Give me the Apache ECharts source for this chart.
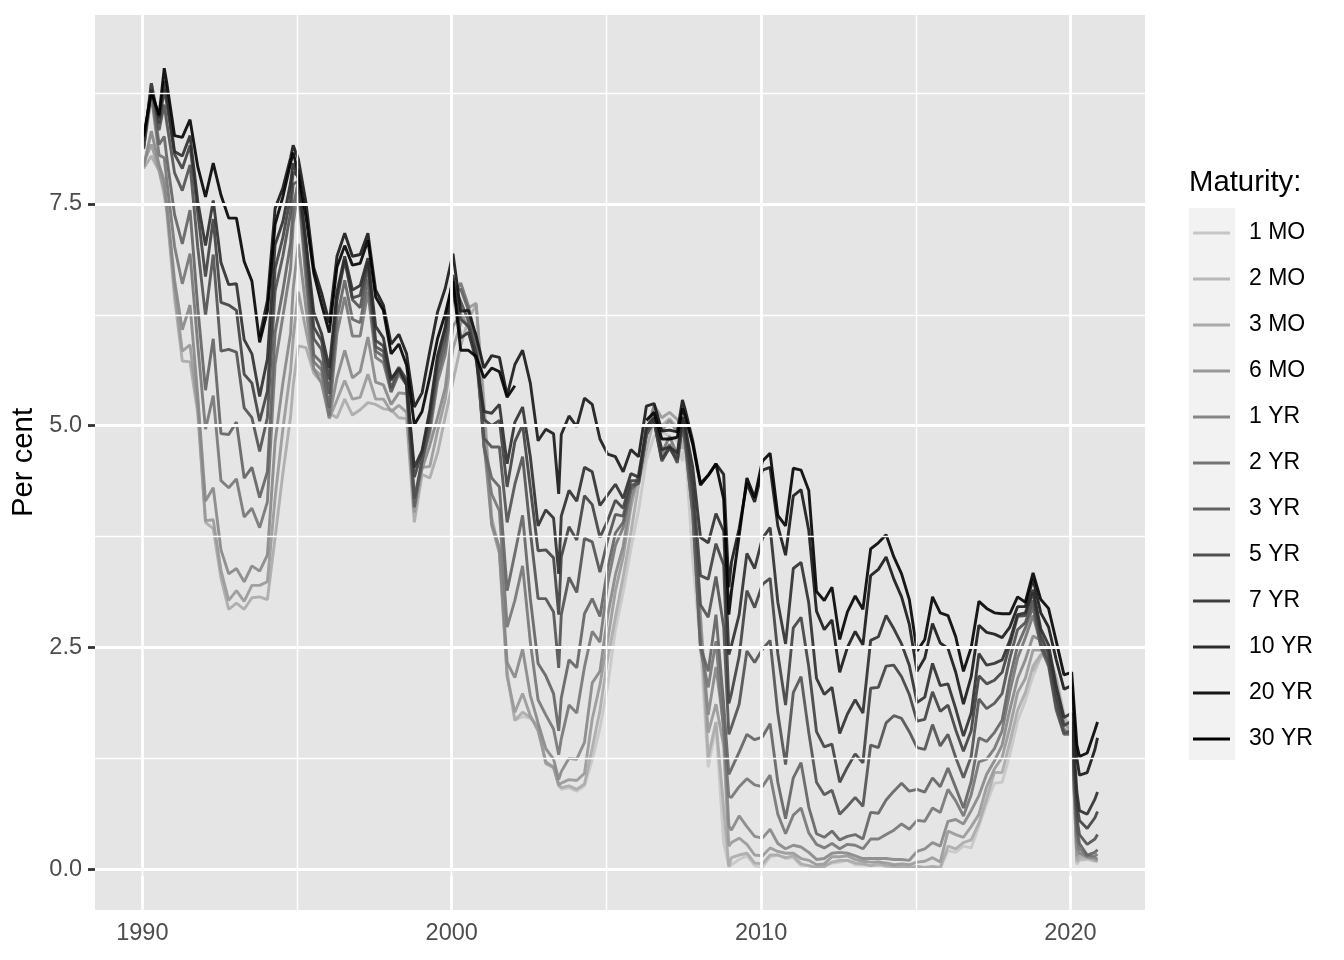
<!DOCTYPE html>
<html>
<head>
<meta charset="utf-8">
<script src="https://cdn.jsdelivr.net/npm/echarts@6/dist/echarts.min.js"></script>
<style>html,body{margin:0;padding:0;background:#fff}#c{width:1344px;height:960px}</style>
</head>
<body>
<div id="c"></div>
<script>
const dates = [
"1990-01","1990-04","1990-07","1990-09","1990-10",
"1991-01","1991-04","1991-07","1991-10",
"1992-01","1992-04","1992-07","1992-10",
"1993-01","1993-04","1993-07","1993-10",
"1994-01","1994-04","1994-07","1994-10","1994-11",
"1995-01","1995-04","1995-07","1995-10",
"1996-01","1996-04","1996-07","1996-10",
"1997-01","1997-04","1997-07","1997-10",
"1998-01","1998-04","1998-07","1998-10",
"1999-01","1999-04","1999-07","1999-10",
"2000-01","2000-04","2000-07","2000-10",
"2001-01","2001-04","2001-07","2001-10",
"2002-01","2002-04","2002-07","2002-10",
"2003-01","2003-04","2003-06","2003-07","2003-10",
"2004-01","2004-04","2004-07","2004-10",
"2005-01","2005-04","2005-07","2005-10",
"2006-01","2006-04","2006-07","2006-10",
"2007-01","2007-04","2007-06","2007-07","2007-10",
"2008-01","2008-04","2008-07","2008-10","2008-12",
"2009-01","2009-04","2009-07","2009-10",
"2010-01","2010-04","2010-07","2010-10",
"2011-01","2011-04","2011-07","2011-10",
"2012-01","2012-04","2012-07","2012-10",
"2013-01","2013-04","2013-07","2013-10",
"2014-01","2014-04","2014-07","2014-10",
"2015-01","2015-04","2015-07","2015-10",
"2016-01","2016-04","2016-07","2016-10",
"2017-01","2017-04","2017-07","2017-10",
"2018-01","2018-04","2018-07","2018-10",
"2019-01","2019-04","2019-07","2019-10",
"2020-01","2020-03","2020-04","2020-07","2020-10","2020-11"
];

const maturities = ["1 MO","2 MO","3 MO","6 MO","1 YR","2 YR","3 YR","5 YR","7 YR","10 YR","20 YR","30 YR"];
const colors = ["#c6c6c6","#b8b8b8","#aaaaaa","#989898","#868686","#747474","#626262","#505050","#3f3f3f","#2c2c2c","#161616","#000000"];

// first observation of series that start later than 1990
const firstDate = {"1 MO":"2001-10","2 MO":"2018-10","20 YR":"1993-10"};

const mo1 = [2.23,
 1.68,1.72,1.70,1.62, 1.19,1.14,0.97,0.90,0.92, 0.88,0.94,1.23,1.59, 2.07,2.70,3.12,3.61,
 4.05,4.61,4.88,4.93, 4.88,4.83,4.60,4.82,3.48, 2.52,1.15,1.61,0.29,0.03, 0.05,0.11,0.15,0.04,
 0.02,0.14,0.16,0.12, 0.13,0.04,0.04,0.01, 0.03,0.07,0.08,0.10, 0.05,0.05,0.04,0.10,
 0.02,0.03,0.02,0.02, 0.03,0.01,0.03,0.01, 0.21,0.19,0.26,0.24, 0.49,0.74,0.97,0.98,
 1.29,1.67,1.90,2.18, 2.39,2.43,2.16,1.76, 1.53,0.05,0.10,0.11,0.09,0.08];

const mo2 = [2.23, 2.40,2.43,2.14,1.72, 1.55,0.08,0.11,0.12,0.10,0.09];

const mo3 = [7.90,8.04,7.87,7.60,7.40, 6.44,5.73,5.72,5.14, 3.91,3.84,3.28,2.93, 3.00,2.93,3.06,3.07,
 3.04,3.74,4.46,5.10,5.45, 5.90,5.88,5.59,5.49, 5.14,5.09,5.30,5.12, 5.18,5.26,5.24,5.19,
 5.18,5.09,5.08,3.91, 4.45,4.41,4.69,5.10, 5.50,5.90,6.20,6.36, 5.29,3.97,3.59,2.20,
 1.68,1.77,1.71,1.61, 1.19,1.15,0.94,0.92,0.94, 0.90,0.96,1.36,1.79, 2.37,2.84,3.29,3.79,
 4.34,4.72,5.08,5.00, 5.08,4.98,4.74,4.96,3.98, 2.82,1.26,1.66,0.69,0.03, 0.13,0.16,0.18,0.07,
 0.06,0.16,0.16,0.13, 0.15,0.06,0.04,0.02, 0.03,0.08,0.10,0.10, 0.07,0.06,0.04,0.05,
 0.04,0.03,0.03,0.02, 0.03,0.02,0.03,0.02, 0.26,0.23,0.30,0.33, 0.52,0.80,1.09,1.09,
 1.43,1.79,1.99,2.29, 2.42,2.43,2.15,1.68, 1.55,0.10,0.14,0.13,0.10,0.09];

const mo6 = [7.96,8.17,7.88,7.66,7.46, 6.54,5.84,5.91,5.20, 3.93,3.94,3.37,3.03, 3.14,3.02,3.20,3.20,
 3.24,4.19,4.96,5.62,5.98, 6.51,6.07,5.64,5.56, 5.08,5.29,5.51,5.30, 5.32,5.58,5.30,5.30,
 5.16,5.23,5.15,4.02, 4.53,4.54,4.94,5.30, 5.87,6.15,6.33,6.38, 5.15,3.88,3.56,2.17,
 1.77,1.98,1.73,1.56, 1.21,1.15,0.95,0.97,1.01, 1.00,1.08,1.69,2.08, 2.58,3.14,3.52,4.08,
 4.47,4.90,5.23,5.09, 5.15,5.07,4.96,5.04,4.20, 2.87,1.54,1.86,1.39,0.26, 0.30,0.35,0.28,0.16,
 0.15,0.24,0.20,0.18, 0.18,0.12,0.10,0.05, 0.06,0.14,0.14,0.15, 0.11,0.09,0.08,0.08,
 0.07,0.05,0.06,0.05, 0.08,0.09,0.13,0.08, 0.43,0.39,0.36,0.48, 0.62,0.93,1.13,1.26,
 1.60,1.99,2.15,2.47, 2.47,2.44,2.07,1.64, 1.56,0.15,0.18,0.14,0.12,0.10];

const yr1 = [7.92,8.32,7.94,7.76,7.49, 6.64,6.08,6.36,5.34, 4.15,4.30,3.60,3.33, 3.39,3.24,3.42,3.36,
 3.54,4.82,5.48,6.04,6.54, 7.05,6.32,5.64,5.48, 5.09,5.54,5.85,5.54, 5.61,6.00,5.49,5.46,
 5.24,5.37,5.36,4.18, 4.51,4.78,5.09,5.43, 6.12,6.26,6.11,6.04, 4.81,3.90,3.62,2.33,
 2.16,2.48,1.96,1.65, 1.36,1.24,1.01,1.10,1.25, 1.24,1.43,2.10,2.23, 2.86,3.32,3.64,4.18,
 4.45,4.90,5.22,4.94, 5.06,4.93,4.96,4.96,4.20, 2.71,1.74,2.28,1.61,0.49, 0.44,0.60,0.48,0.37,
 0.35,0.45,0.29,0.23, 0.27,0.25,0.19,0.11, 0.12,0.18,0.19,0.18, 0.15,0.12,0.12,0.12,
 0.12,0.11,0.11,0.10, 0.20,0.23,0.30,0.26, 0.54,0.56,0.51,0.66, 0.83,1.07,1.22,1.40,
 1.80,2.15,2.36,2.63, 2.58,2.42,1.96,1.58, 1.53,0.24,0.18,0.14,0.13,0.12];

const yr2 = [8.12,8.72,8.05,8.02,7.76, 7.02,6.60,6.94,5.91, 4.96,5.34,4.38,4.30, 4.40,3.97,4.07,3.85,
 4.14,5.69,6.23,6.77,7.27, 7.66,6.63,5.72,5.63, 5.11,6.04,6.45,6.01, 6.01,6.51,5.77,5.71,
 5.38,5.58,5.46,4.09, 4.60,4.92,5.49,5.80, 6.44,6.61,6.35,5.95, 4.76,4.23,4.04,2.73,
 3.03,3.42,2.56,1.91, 1.74,1.58,1.29,1.47,1.85, 1.76,2.28,2.68,2.56, 3.22,3.65,3.85,4.27,
 4.40,4.89,5.12,4.69, 4.88,4.67,4.98,4.82,4.01, 2.48,2.05,2.57,1.55,0.82, 0.81,0.93,1.02,0.95,
 0.93,1.06,0.62,0.40, 0.61,0.69,0.41,0.28, 0.24,0.29,0.23,0.28, 0.27,0.23,0.34,0.34,
 0.39,0.44,0.51,0.45, 0.55,0.54,0.69,0.64, 0.90,0.77,0.60,0.84, 1.21,1.24,1.36,1.56,
 2.00,2.38,2.61,2.86, 2.54,2.34,1.84,1.56, 1.52,0.37,0.23,0.15,0.15,0.17];

const yr3 = [8.13,8.80,8.17,8.26,8.02, 7.38,7.05,7.43,6.33, 5.40,5.98,4.91,4.90, 5.04,4.41,4.53,4.19,
 4.48,6.05,6.52,7.06,7.46, 7.76,6.76,5.80,5.71, 5.20,6.21,6.64,6.20, 6.16,6.65,5.84,5.78,
 5.38,5.61,5.48,4.08, 4.61,4.98,5.58,5.90, 6.49,6.54,6.30,5.88, 4.77,4.41,4.31,3.14,
 3.56,3.99,3.05,2.32, 2.18,1.98,1.56,1.93,2.36, 2.27,2.88,3.05,2.85, 3.39,3.79,3.91,4.29,
 4.35,4.89,5.07,4.62, 4.79,4.58,5.00,4.82,4.01, 2.51,2.23,2.87,1.86,1.07, 1.13,1.32,1.52,1.46,
 1.49,1.64,0.98,0.57, 1.03,1.20,0.70,0.40, 0.36,0.43,0.33,0.37, 0.39,0.34,0.64,0.63,
 0.78,0.88,0.97,0.88, 0.90,0.87,1.03,0.93, 1.14,0.92,0.69,0.99, 1.48,1.44,1.54,1.68,
 2.15,2.52,2.72,2.96, 2.50,2.29,1.79,1.52, 1.52,0.45,0.29,0.16,0.19,0.22];

const yr5 = [8.12,8.86,8.33,8.62,8.41, 7.85,7.65,7.94,7.01, 6.24,6.93,5.84,5.86, 5.83,5.20,5.09,4.71,
 5.09,6.52,6.91,7.40,7.72, 7.76,6.89,5.98,5.86, 5.36,6.41,6.87,6.42, 6.33,6.79,5.89,5.84,
 5.42,5.64,5.46,4.18, 4.60,5.03,5.68,6.00, 6.58,6.40,6.18,5.78, 4.86,4.76,4.76,3.91,
 4.34,4.65,3.81,3.05, 3.05,2.90,2.27,2.87,3.29, 3.12,3.73,3.69,3.35, 3.71,4.00,3.98,4.33,
 4.35,4.90,5.04,4.60, 4.75,4.59,5.03,4.88,4.20, 2.98,2.84,3.30,2.73,1.52, 1.60,1.86,2.46,2.33,
 2.48,2.58,1.76,1.18, 1.99,2.17,1.54,0.98, 0.84,0.89,0.62,0.71, 0.81,0.71,1.40,1.37,
 1.65,1.73,1.70,1.55, 1.37,1.35,1.63,1.39, 1.52,1.26,1.03,1.27, 1.92,1.81,1.87,1.98,
 2.38,2.70,2.78,3.03, 2.54,2.33,1.83,1.53, 1.56,0.58,0.39,0.28,0.34,0.39];

const yr7 = [8.15,8.86,8.41,8.79,8.63, 8.06,7.90,8.16,7.40, 6.68,7.33,6.39,6.36, 6.30,5.58,5.48,5.05,
 5.39,6.77,7.12,7.58,7.86, 7.81,7.05,6.11,5.96, 5.52,6.46,6.87,6.44, 6.47,6.85,5.96,5.90,
 5.51,5.66,5.52,4.42, 4.70,5.12,5.75,6.10, 6.70,6.20,6.12,5.81, 5.07,5.00,5.06,4.31,
 4.82,5.01,4.30,3.59, 3.60,3.51,2.87,3.52,3.86, 3.71,4.21,4.11,3.74, 3.93,4.16,4.07,4.38,
 4.38,4.95,5.05,4.62, 4.75,4.62,5.08,4.93,4.33, 3.31,3.27,3.67,3.43,1.87, 1.98,2.40,3.14,2.95,
 3.21,3.28,2.43,1.85, 2.72,2.84,2.28,1.55, 1.38,1.41,0.98,1.15, 1.30,1.20,2.04,2.05,
 2.29,2.30,2.17,1.97, 1.67,1.69,2.00,1.78, 1.85,1.57,1.33,1.56, 2.18,2.09,2.13,2.22,
 2.53,2.85,2.86,3.12, 2.64,2.43,1.94,1.62, 1.67,0.72,0.55,0.46,0.58,0.65];

const yr10 = [8.21,8.79,8.47,8.89,8.72, 8.09,8.04,8.27,7.53, 7.03,7.54,6.84,6.59, 6.60,5.97,5.81,5.33,
 5.75,7.04,7.30,7.74,7.96, 7.78,7.06,6.28,6.04, 5.65,6.51,6.91,6.53, 6.58,6.89,6.12,5.99,
 5.53,5.64,5.46,4.53, 4.72,5.18,5.79,6.11, 6.66,5.99,6.05,5.74, 5.16,5.14,5.24,4.57,
 5.04,5.21,4.65,3.87, 4.05,3.96,3.33,3.98,4.27, 4.15,4.53,4.48,4.10, 4.22,4.34,4.18,4.46,
 4.42,4.99,5.09,4.73, 4.76,4.69,5.10,5.00,4.53, 3.74,3.68,4.01,3.81,2.42, 2.52,2.87,3.56,3.39,
 3.73,3.85,3.01,2.54, 3.39,3.46,3.00,2.15, 1.97,2.05,1.53,1.75, 1.91,1.76,2.58,2.62,
 2.86,2.71,2.54,2.30, 1.88,1.94,2.32,2.07, 2.09,1.81,1.50,1.76, 2.43,2.30,2.32,2.36,
 2.58,2.87,2.89,3.15, 2.71,2.53,2.06,1.71, 1.76,0.87,0.66,0.62,0.79,0.87];

const yr20 = [6.00,
 6.41,7.45,7.68,8.02,8.16, 8.01,7.51,6.78,6.50, 6.16,6.91,7.17,6.91, 6.93,7.17,6.53,6.36,
 5.92,6.03,5.81,5.21, 5.37,5.84,6.28,6.55, 6.94,6.29,6.30,6.01, 5.65,5.79,5.77,5.34,
 5.69,5.85,5.48,4.83, 4.96,4.91,4.23,4.90,5.11, 4.99,5.31,5.24,4.85, 4.68,4.65,4.48,4.73,
 4.65,5.22,5.25,4.94, 4.95,4.93,5.29,5.19,4.83, 4.35,4.44,4.57,4.45,3.18, 3.46,3.84,4.35,4.14,
 4.50,4.53,3.87,3.54, 4.21,4.28,3.82,2.91, 2.70,2.81,2.22,2.50, 2.68,2.53,3.31,3.38,
 3.52,3.27,3.07,2.76, 2.23,2.38,2.77,2.55, 2.49,2.22,1.86,2.17, 2.75,2.67,2.65,2.61,
 2.73,2.96,2.96,3.27, 2.89,2.73,2.36,2.03, 2.07,1.25,1.06,1.09,1.35,1.48];

const yr30 = [8.26,8.76,8.50,9.03,8.86, 8.27,8.25,8.45,7.92, 7.58,7.96,7.60,7.34, 7.34,6.85,6.63,5.94,
 6.29,7.27,7.58,7.96,8.08, 7.85,7.35,6.72,6.37, 6.05,6.79,7.03,6.81, 6.83,7.09,6.45,6.30,
 5.81,5.92,5.68,5.01, 5.16,5.55,5.98,6.26, 6.63,5.85,5.85,5.78, 5.54,5.65,5.61,5.32,
 5.45,null,null,null, null,null,null,null,null, null,null,null,null, null,null,null,null,
 null,5.06,5.15,4.85, 4.85,4.87,5.20,5.11,4.79, 4.33,4.44,4.57,4.17,2.87, 3.13,3.76,4.41,4.19,
 4.60,4.69,3.99,3.87, 4.52,4.50,4.27,3.13, 3.03,3.18,2.59,2.90, 3.08,2.93,3.61,3.68,
 3.77,3.52,3.33,3.04, 2.46,2.59,3.07,2.89, 2.86,2.62,2.23,2.50, 3.02,2.94,2.89,2.88,
 2.88,3.07,3.01,3.34, 3.04,2.94,2.57,2.19, 2.22,1.40,1.27,1.31,1.57,1.66];

const seriesValues = {"1 MO":mo1,"2 MO":mo2,"3 MO":mo3,"6 MO":mo6,"1 YR":yr1,"2 YR":yr2,"3 YR":yr3,
  "5 YR":yr5,"7 YR":yr7,"10 YR":yr10,"20 YR":yr20,"30 YR":yr30};

const xTicks = [1990, 2000, 2010, 2020];
const xMinor = [1995, 2005, 2015];
const yTicks = [0, 2.5, 5, 7.5];
const yMinor = [1.25, 3.75, 6.25, 8.75];

const FONT = '"Liberation Sans", Arial, Helvetica, sans-serif';
const toYear = s => { const p = s.split('-'); return +p[0] + (+p[1] - 0.5) / 12; };

const problems = [];
function points(name) {
  const vals = seriesValues[name];
  const off = dates.indexOf(firstDate[name] || dates[0]);
  if (off + vals.length !== dates.length) problems.push(name + ' ' + (off + vals.length));
  return vals.map((v, i) => [toYear(dates[off + i]), v]);
}

const gridLine = (w) => ({color: '#ffffff', width: w, type: 'solid', opacity: 1});
const gridSeries = {
  name: '_grid', type: 'line', data: [], silent: true, z: 1, animation: false,
  markLine: {
    silent: true, animation: false, symbol: ['none', 'none'], label: {show: false},
    emphasis: {disabled: true},
    data: [
      ...xMinor.map(v => ({xAxis: v, lineStyle: gridLine(1.4)})),
      ...yMinor.map(v => ({yAxis: v, lineStyle: gridLine(1.4)})),
      ...xTicks.map(v => ({xAxis: v, lineStyle: gridLine(2.8)})),
      ...yTicks.map(v => ({yAxis: v, lineStyle: gridLine(2.8)}))
    ]
  }
};

const dataSeries = maturities.map((name, i) => ({
  name: name, type: 'line', data: points(name), z: 2,
  symbol: 'none', showSymbol: false, connectNulls: false, animation: false,
  color: colors[i],
  itemStyle: {color: colors[i]},
  lineStyle: {color: colors[i], width: 2.9, opacity: 0.9},
  emphasis: {disabled: true}
}));

const chart = echarts.init(document.getElementById('c'), null, {renderer: 'canvas'});
chart.setOption({
  animation: false,
  backgroundColor: '#ffffff',
  title: {
    text: 'Maturity:', left: 1189, top: 167, padding: 0,
    textStyle: {fontSize: 29.3, fontWeight: 'normal', color: '#000000', fontFamily: FONT, lineHeight: 31}
  },
  graphic: [
    {type: 'rect', left: 1189, top: 208, silent: true, z: 0,
     shape: {width: 46, height: 552}, style: {fill: '#F2F2F2'}}
  ].concat(problems.length ? [{type: 'text', left: 200, top: 40, style: {text: 'LENGTH ' + problems.join(', '), fill: 'red', fontSize: 20}}] : []),
  legend: {
    orient: 'vertical', left: 1193, top: 210, padding: 0,
    itemWidth: 37, itemHeight: 3, itemGap: 0, icon: 'rect', selectedMode: false,
    textStyle: {fontSize: 23, color: '#000000', fontFamily: FONT, lineHeight: 46, padding: [0, 0, 0, 14]},
    data: maturities.map((n, i) => ({name: n, itemStyle: {color: colors[i]}}))
  },
  grid: {
    left: 95, right: 199, top: 15, bottom: 50, show: true,
    backgroundColor: '#E5E5E5', borderWidth: 0, containLabel: false
  },
  xAxis: {
    type: 'value', min: 1988.47, max: 2022.41,
    axisLine: {show: false}, splitLine: {show: false},
    axisTick: {show: true, customValues: xTicks, length: 7, lineStyle: {color: '#333333', width: 2.8}},
    axisLabel: {customValues: xTicks, color: '#4D4D4D', fontSize: 23.5, fontFamily: FONT, margin: 12,
      formatter: v => String(v)}
  },
  yAxis: {
    type: 'value', min: -0.46, max: 9.63,
    name: 'Per cent', nameLocation: 'middle', nameGap: 53,
    nameTextStyle: {fontSize: 29.3, color: '#000000', fontFamily: FONT, lineHeight: 30},
    axisLine: {show: false}, splitLine: {show: false},
    axisTick: {show: true, customValues: yTicks, length: 7, lineStyle: {color: '#333333', width: 2.8}},
    axisLabel: {customValues: yTicks, color: '#4D4D4D', fontSize: 23.5, fontFamily: FONT, margin: 13,
      formatter: v => v.toFixed(1)}
  },
  series: [gridSeries].concat(dataSeries)
});
</script>
</body>
</html>
